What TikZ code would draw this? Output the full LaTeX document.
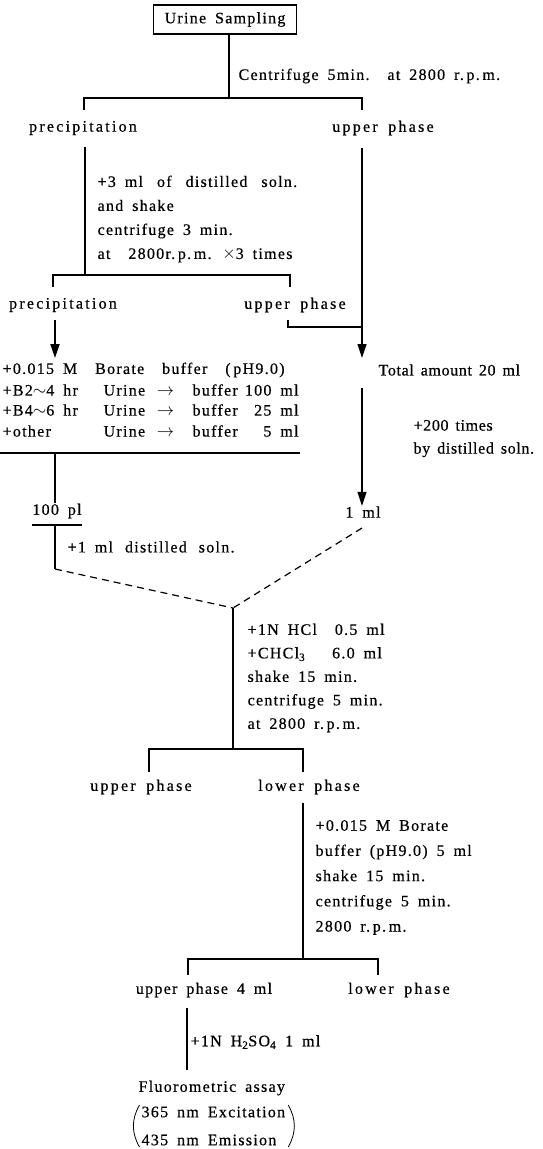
\documentclass[tikz,border=0pt]{standalone}
\usepackage{fontspec}
\setmainfont{Liberation Serif}[LetterSpace=8,WordSpace=1.7,FakeBold=0.5]
\newfontfamily\tightf{Liberation Serif}[LetterSpace=4,WordSpace=1.5,FakeBold=0.5]
\newfontfamily\widef{Liberation Serif}[LetterSpace=14,WordSpace=1.7,FakeBold=0.5]
\usetikzlibrary{arrows.meta}
\newcommand\wsp{\hspace{5pt}\ }
\begin{document}
\begin{tikzpicture}[x=1pt,y=-1pt,line width=1.2pt,
  every node/.style={font=\fontsize{16}{24}\selectfont, inner sep=0pt},
  lbl/.style={anchor=west},
  wide/.style={font=\fontsize{16}{24}\widef},
  tight/.style={font=\fontsize{16}{23}\tightf},
  blk/.style={anchor=west, align=left},
  arr/.style={-{Triangle[length=14pt,width=9pt]}},
  thk/.style={line width=2pt},
  par/.style={line width=0.8pt},
  dsh/.style={dash pattern=on 7pt off 5pt}]
\useasboundingbox (0,0) rectangle (542,1149);
% top box
\node[draw, minimum width=143pt, minimum height=29pt, line width=1.2pt] (us) at (225,19.5) {Urine Sampling};
\coordinate (j1) at (229,98);
\draw (us.south -| j1) -- (j1);
\coordinate (b1l) at (84,110);
\coordinate (b1r) at (362,110);
\draw (b1l) -- (b1l |- j1) -- (b1r |- j1) -- (b1r);
\node[lbl] (cen1) at (238,76) {Centrifuge 5min.\ \ at 2800 r.\,p.\,m.};
\node[wide] (prec1) at (83,128) {precipitation};
\node[wide] (up1) at (383,128) {upper phase};
% second split
\coordinate (p1b) at (85,147);
\coordinate (j2) at (85,275);
\draw (p1b) -- (j2);
\coordinate (b2l) at (53,287);
\coordinate (b2r) at (290,287);
\draw (b2l) -- (b2l |- j2) -- (b2r |- j2) -- (b2r);
\node[blk] (wash) at (97,219) {+3 ml\wsp of\wsp distilled\wsp soln.\\and shake\\centrifuge 3 min.\\at\ \ 2800r.\,p.\,m. $\times$3 times};
\node[wide] (prec2) at (63,305) {precipitation};
\node[wide] (up2) at (295,305) {upper phase};
% right line to total
\coordinate (u1b) at (362,148);
\node[lbl,tight] (tot) at (378,370) {Total amount 20 ml};
\coordinate (totin) at (362,358);
\draw[arr] (u1b) -- (totin);
\coordinate (el) at (288,320);
\draw (el) -- (288,327) -- (362,327);
% left arrow
\coordinate (p2b) at (55,320);
\coordinate (p2t) at (55,358);
\draw[arr,thk] (p2b) -- (p2t);
% borate block
\node[lbl] (bor1) at (2,370) {\makebox[296pt][l]{+0.015 M\ \ Borate\ \ buffer\ \ (\,pH9.0)}};
\node[lbl] (bor2) at (2,390) {\makebox[101pt][l]{+B2$\sim$4 hr}\makebox[89pt][l]{Urine \,$\rightarrow$}\makebox[106pt][l]{buffer\hfill 100 ml}};
\node[lbl] (bor3) at (2,410) {\makebox[101pt][l]{+B4$\sim$6 hr}\makebox[89pt][l]{Urine \,$\rightarrow$}\makebox[106pt][l]{buffer\hfill 25 ml}};
\node[lbl] (bor4) at (2,431) {\makebox[101pt][l]{+other}\makebox[89pt][l]{Urine \,$\rightarrow$}\makebox[106pt][l]{buffer\hfill 5 ml}};
\coordinate (ulA) at (0,453);
\coordinate (ulB) at (300,453);
\draw (ulA) -- (ulB);
\node (pl) at (57,511) {100 pl};
\draw (55,453) -- (pl.north -| 55,0);
\coordinate (plA) at (32,525);
\coordinate (plB) at (82,525);
\draw (plA) -- (plB);
\coordinate (dl) at (55,569);
\draw (55,525) -- (dl);
\node[lbl] (dist1) at (67,547) {+1 ml\hspace{3pt} distilled\hspace{3pt} soln.};
% right dilution
\node (ml1) at (363,512) {1 ml};
\coordinate (tb) at (362,388);
\draw[arr] (tb) -- (ml1.north -| tb);
\node[blk,tight] (dil) at (413,438.5) {+200 times\\by distilled soln.};
\coordinate (dr) at (362,528);
\coordinate (m) at (233,608);
\draw[dsh] (dl) -- (m);
\draw[dsh] (dr) -- (m);
% HCl extraction
\coordinate (j3) at (233,749);
\draw (m) -- (j3);
\coordinate (b3l) at (149,772);
\coordinate (b3r) at (303,772);
\draw (b3l) -- (b3l |- j3) -- (b3r |- j3) -- (b3r);
\node[blk, font=\fontsize{16}{23.5}\selectfont] (hcl) at (247,678) {+1N HCl\ \ 0.5 ml\\+CHCl\textsubscript{3}\ \ \ 6.0 ml\\shake 15 min.\\centrifuge 5 min.\\at 2800 r.\,p.\,m.};
\node[wide] (up3) at (141,787) {upper phase};
\node[wide] (lo3) at (309,787) {lower phase};
% back extraction
\coordinate (lb) at (303,803);
\coordinate (j4) at (303,959);
\draw (lb) -- (j4);
\coordinate (b4l) at (188,975);
\coordinate (b4r) at (378,975);
\draw (b4l) -- (b4l |- j4) -- (b4r |- j4) -- (b4r);
\node[blk, font=\fontsize{16}{25.2}\selectfont] (bb) at (315,877.5) {+0.015 M Borate\\buffer (pH9.0)\ 5 ml\\shake 15 min.\\centrifuge 5 min.\\2800 r.\,p.\,m.};
\node (up4) at (204,990) {upper phase 4 ml};
\node[wide] (lo4) at (399,990) {lower phase};
% final
\coordinate (fa) at (187,1008);
\coordinate (fb) at (187,1070);
\draw[thk] (fa) -- (fb);
\node[lbl] (h2so4) at (190,1042) {+1N H\textsubscript{2}SO\textsubscript{4} 1 ml};
\node[lbl] (fl) at (138,1088) {Fluorometric assay};
\node[blk, font=\fontsize{16}{28}\selectfont] (exc) at (141,1126) {365 nm Excitation\\435 nm Emission};
\draw[par] ([xshift=-1.5pt,yshift=1pt]exc.north west) to[bend right=30] ([xshift=-1.5pt,yshift=-1pt]exc.south west);
\draw[par] ([xshift=2.5pt,yshift=1pt]exc.north east) to[bend left=30] ([xshift=2.5pt,yshift=-1pt]exc.south east);
\end{tikzpicture}
\end{document}
